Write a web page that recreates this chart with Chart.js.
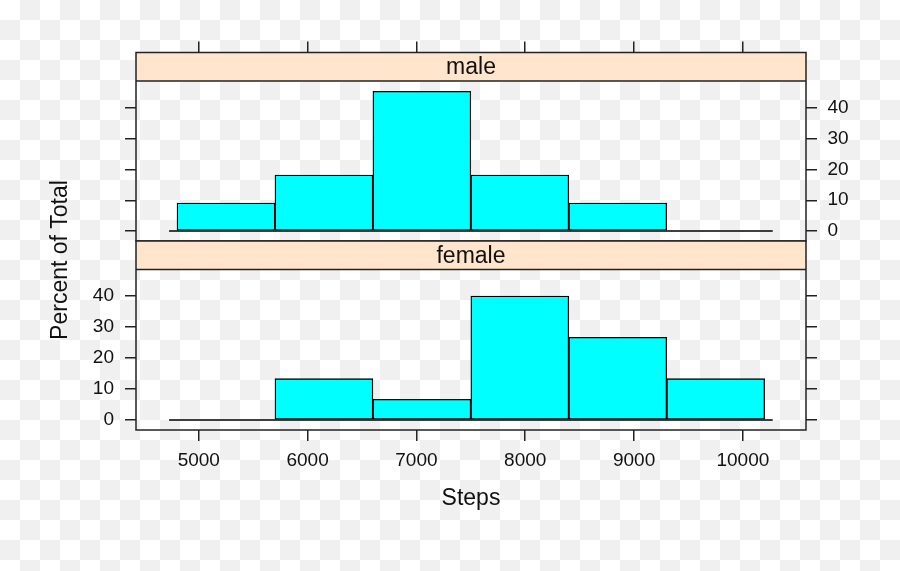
<!DOCTYPE html>
<html>
<head>
<meta charset="utf-8">
<script src="https://cdn.jsdelivr.net/npm/chart.js@4.4.1/dist/chart.umd.min.js"></script>
<style>
  html, body { margin: 0; padding: 0; }
  body {
    width: 900px; height: 571px; position: relative; overflow: hidden;
    background: repeating-conic-gradient(#f0f0f0 0% 25%, #ffffff 0% 50%) 0 0 / 40px 40px;
  }
  canvas { position: absolute; left: 0; top: 0; }
</style>
</head>
<body>
<canvas id="male-chart" width="900" height="571"></canvas>
<canvas id="female-chart" width="900" height="571"></canvas>
<script>
// histogram bins (Steps) and percent of total per panel
const binEdges = [4800, 5700, 6600, 7500, 8400, 9300, 10200];
const malePct = [9.09, 18.18, 45.45, 18.18, 9.09, 0];
const femalePct = [0, 13.33, 6.67, 40, 26.67, 13.33];
const stepTicks = [5000, 6000, 7000, 8000, 9000, 10000];
const pctTicks = [0, 10, 20, 30, 40];
const baselineX = [4727, 10274];

const LINE = '#222222';
const TEXT = '#111111';
const FONT = '"Liberation Sans", Arial, Helvetica, sans-serif';
const STRIP_H = 28.5;

function histData(pct) {
  return pct.map((v, i) => ({ x: (binEdges[i] + binEdges[i + 1]) / 2, y: v === 0 ? null : v }));
}

function datasets(pct) {
  return [
    {
      type: 'bar',
      data: histData(pct),
      backgroundColor: '#00ffff',
      borderColor: '#000000',
      borderWidth: 1.3,
      borderSkipped: false,
      barPercentage: 1,
      categoryPercentage: 1
    },
    {
      type: 'line',
      data: baselineX.map(x => ({ x: x, y: 0 })),
      borderColor: '#000000',
      borderWidth: 1.5,
      pointRadius: 0
    }
  ];
}

// strip with panel name + frame round the panel
const stripPlugin = {
  id: 'strip',
  afterDraw(chart, args, opts) {
    const { ctx, chartArea: a } = chart;
    ctx.save();
    ctx.fillStyle = '#ffe5cc';
    ctx.fillRect(a.left, a.top, a.right - a.left, STRIP_H);
    ctx.strokeStyle = LINE;
    ctx.lineWidth = 1.5;
    ctx.strokeRect(a.left, a.top, a.right - a.left, a.bottom - a.top);
    ctx.beginPath();
    ctx.moveTo(a.left, a.top + STRIP_H);
    ctx.lineTo(a.right, a.top + STRIP_H);
    ctx.stroke();
    ctx.fillStyle = TEXT;
    ctx.font = '23px ' + FONT;
    ctx.textAlign = 'center';
    ctx.textBaseline = 'middle';
    ctx.fillText(opts.label, (a.left + a.right) / 2, a.top + STRIP_H / 2 + 1);
    if (opts.yTitle) {
      ctx.translate(61, 260);
      ctx.rotate(-Math.PI / 2);
      ctx.fillText(opts.yTitle, 0, 0);
    }
    ctx.restore();
  }
};

function tickGrid() {
  return { display: true, drawOnChartArea: false, drawTicks: true, tickLength: 11, offset: false,
           color: LINE, tickColor: LINE, lineWidth: 1.5, tickWidth: 1.5 };
}

function yAxis(pos, showLabels, min, max, width, pad) {
  return {
    type: 'linear', position: pos, min: min, max: max,
    grid: tickGrid(),
    border: { display: false },
    ticks: { display: showLabels, padding: pad, color: TEXT, font: { family: FONT, size: 19 },
             callback: v => String(v) },
    afterBuildTicks: s => { s.ticks = pctTicks.map(v => ({ value: v })); },
    afterFit: s => { s.width = width; }
  };
}

const X_MIN = 4423, X_MAX = 10580;

function xAxis(pos, showLabels, height) {
  const ax = {
    type: 'linear', position: pos, min: X_MIN, max: X_MAX, offset: false,
    grid: tickGrid(),
    border: { display: false },
    ticks: { display: showLabels, padding: 8, color: TEXT, font: { family: FONT, size: 19 },
             callback: v => String(v) },
    afterBuildTicks: s => { s.ticks = stepTicks.map(v => ({ value: v })); },
    afterFit: s => { s.height = height; }
  };
  if (showLabels) {
    ax.title = { display: true, text: 'Steps', color: TEXT, padding: 0, font: { family: FONT, size: 23 } };
  }
  return ax;
}

new Chart(document.getElementById('male-chart'), {
  data: { datasets: datasets(malePct) },
  options: {
    responsive: false,
    animation: false,
    layout: { padding: { left: 0, right: 0, top: 0, bottom: 330 } },
    plugins: { legend: { display: false }, tooltip: { enabled: false }, strip: { label: 'male' } },
    scales: {
      x: xAxis('top', false, 52.5),
      y: yAxis('left', false, -3.25, 58.05, 136, 11),
      y2: yAxis('right', true, -3.25, 58.05, 94, 10.5)
    }
  },
  plugins: [stripPlugin]
});

new Chart(document.getElementById('female-chart'), {
  data: { datasets: datasets(femalePct) },
  options: {
    responsive: false,
    animation: false,
    layout: { padding: { left: 0, right: 0, top: 241, bottom: 58.7 } },
    plugins: { legend: { display: false }, tooltip: { enabled: false },
               strip: { label: 'female', yTitle: 'Percent of Total' } },
    scales: {
      x: xAxis('bottom', true, 82.3),
      y: yAxis('left', true, -3.23, 57.74, 136, 11),
      y2: yAxis('right', false, -3.23, 57.74, 94, 10.5)
    }
  },
  plugins: [stripPlugin]
});
</script>
</body>
</html>
